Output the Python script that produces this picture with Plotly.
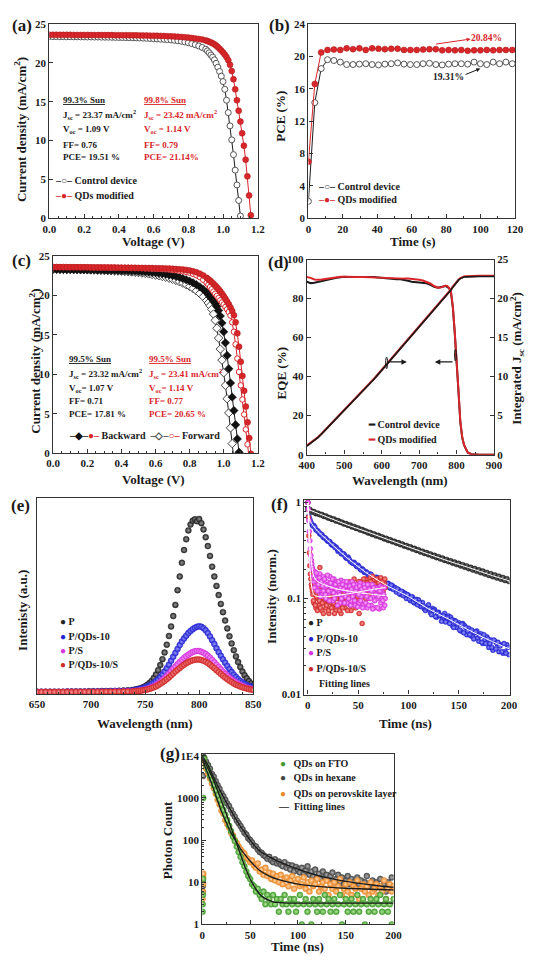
import plotly.graph_objects as go

W, H = 534, 964
FONT = "Liberation Serif"
INK = "#1a1a1a"
AXC = "#333333"
RED = "#d9262a"
DRED = "#a81a1a"
BLUE = "#2525d0"
MAG = "#d535dc"
GREEN = "#3f9a2c"
GRAY = "#454545"
ORANGE = "#e9892a"

# ---------------- DATA ----------------
# (a) J-V curves
volt_grid = [0.00,0.02,0.04,0.06,0.08,0.10,0.12,0.14,0.16,0.18,0.20,0.22,0.24,0.26,0.28,0.30,0.32,0.34,0.36,0.38,
             0.40,0.42,0.44,0.46,0.48,0.50,0.52,0.54,0.56,0.58,0.60,0.62,0.64,0.66,0.68,0.70,0.72,0.74,0.76,0.78,
             0.80,0.82,0.84,0.86,0.88,0.90,0.91,0.92,0.93,0.94,0.95,0.96,0.97,0.98,0.99,1.00,1.01,1.02,1.03,1.04,
             1.05,1.06,1.07,1.08,1.09,1.10,1.11,1.12,1.13,1.14,1.15,1.16]
jv_ctrl_a = [23.40,23.39,23.39,23.38,23.38,23.37,23.37,23.36,23.36,23.35,23.35,23.34,23.34,23.33,23.33,23.32,23.31,23.31,23.30,23.29,
             23.28,23.27,23.26,23.25,23.24,23.23,23.21,23.19,23.17,23.15,23.12,23.09,23.06,23.03,23.00,22.96,22.91,22.85,22.78,22.70,
             22.60,22.48,22.34,22.18,21.99,21.77,21.55,21.30,21.02,20.75,20.40,19.95,19.45,18.90,18.30,17.60,16.60,15.20,13.60,11.90,
             10.10,8.20,6.20,4.30,2.30,0.30]
jv_qd_a = [23.62,23.62,23.62,23.61,23.61,23.61,23.61,23.60,23.60,23.60,23.60,23.60,23.59,23.59,23.59,23.59,23.58,23.58,23.58,23.57,
           23.57,23.57,23.56,23.56,23.55,23.55,23.54,23.53,23.52,23.51,23.50,23.49,23.48,23.46,23.44,23.42,23.40,23.37,23.34,23.30,
           23.26,23.21,23.15,23.08,23.00,22.90,22.82,22.73,22.63,22.52,22.40,22.23,22.04,21.83,21.60,21.35,21.07,20.75,20.35,19.75,
           18.95,17.90,16.60,15.20,13.85,12.45,10.95,9.35,7.55,5.40,2.95,0.40]

# (b) stabilized PCE
time_b = [0, 3.7, 7.4, 11.1, 14.8, 18.5, 22.2, 25.9, 29.6, 33.3, 37.0, 40.7, 44.4, 48.1, 51.8, 55.5, 59.2,
          62.9, 66.6, 70.3, 74.0, 77.7, 81.4, 85.1, 88.8, 92.5, 96.2, 99.9, 103.6, 107.3, 111.0, 114.7, 118.4]
pce_ctrl = [2.1, 14.3, 18.5, 19.6, 19.5, 19.3, 19.0, 19.0, 19.05, 19.1, 19.0, 18.95, 19.05, 19.1, 19.2, 19.05, 19.0,
            19.0, 19.1, 19.15, 19.0, 18.95, 19.05, 19.1, 19.1, 19.05, 19.3, 19.1, 19.0, 19.3, 19.1, 19.3, 19.1]
pce_qd = [7.0, 16.6, 20.5, 20.8, 20.85, 20.8, 21.0, 20.9, 21.0, 20.8, 21.0, 20.95, 20.9, 20.95, 20.95, 20.8, 20.8,
          20.8, 20.85, 20.9, 20.9, 20.75, 20.8, 20.75, 20.8, 20.7, 20.75, 20.75, 20.8, 20.75, 20.8, 20.8, 20.8]

# (c) hysteresis J-V
jv_ctrl_bwd = [23.32,23.32,23.31,23.31,23.30,23.30,23.29,23.29,23.28,23.28,23.27,23.26,23.26,23.25,23.24,23.23,23.22,23.21,23.20,23.19,
               23.17,23.16,23.14,23.12,23.10,23.07,23.04,23.01,22.97,22.93,22.88,22.83,22.77,22.70,22.62,22.53,22.43,22.31,22.17,22.01,
               21.83,21.62,21.38,21.10,20.78,20.40,20.10,19.85,19.58,19.30,19.00,18.60,18.10,17.40,16.50,15.40,14.00,12.40,10.70,8.90,
               7.10,5.40,3.60,1.80,0.10]
jv_ctrl_fwd = [23.36,23.35,23.34,23.33,23.32,23.31,23.30,23.29,23.28,23.27,23.26,23.25,23.23,23.22,23.20,23.19,23.17,23.15,23.13,23.11,
               23.08,23.05,23.02,22.99,22.95,22.91,22.86,22.81,22.75,22.68,22.60,22.52,22.42,22.32,22.20,22.07,21.92,21.76,21.58,21.38,
               21.15,20.90,20.60,20.25,19.85,19.35,19.05,18.70,18.25,17.65,16.85,15.85,14.60,13.20,11.80,10.20,8.60,6.90,5.10,3.20,
               1.20,-0.80]
jv_qd_bwd = [23.60,23.60,23.60,23.59,23.59,23.59,23.59,23.58,23.58,23.58,23.58,23.57,23.57,23.57,23.56,23.56,23.56,23.55,23.55,23.54,
             23.54,23.53,23.53,23.52,23.52,23.51,23.50,23.50,23.49,23.48,23.47,23.46,23.45,23.44,23.42,23.40,23.37,23.34,23.30,23.25,
             23.18,23.08,22.95,22.78,22.55,22.25,22.08,21.90,21.70,21.50,21.28,21.05,20.80,20.53,20.24,19.93,19.60,19.25,18.88,18.48,
             18.03,17.50,16.60,15.20,13.50,11.60,9.80,7.90,5.90,3.90,1.90,-0.10]
jv_qd_fwd = [23.62,23.62,23.61,23.61,23.61,23.60,23.60,23.60,23.59,23.59,23.58,23.58,23.57,23.57,23.56,23.56,23.55,23.54,23.54,23.53,
             23.52,23.51,23.50,23.49,23.48,23.47,23.46,23.44,23.43,23.41,23.40,23.38,23.35,23.33,23.30,23.25,23.21,23.15,23.08,23.00,
             22.90,22.76,22.58,22.35,22.00,21.60,21.35,21.08,20.80,20.50,20.22,19.95,19.68,19.40,19.12,18.85,18.55,18.25,17.90,17.45,
             16.60,15.40,13.80,12.00,10.30,8.60,6.80,4.90,3.00,1.10,-0.80]

# (d) EQE and integrated Jsc
wl_d = [400,410,420,430,440,450,460,470,480,490,500,510,520,530,540,550,560,570,580,590,
        600,610,620,630,640,650,660,670,680,690,700,710,720,730,740,750,760,
        765,770,775,780,785,790,795,800,805,810,815,820,825,830,840,850,860,870,880,890,900]
eqe_ctrl = [88.6,87.9,88.1,88.6,89.1,89.5,89.8,90.2,90.6,90.9,91.1,91.0,91.0,91.1,91.1,91.1,91.2,91.1,91.0,90.8,
            90.6,90.3,90.0,89.9,89.9,89.9,89.6,89.1,88.6,88.4,88.4,88.2,87.8,87.0,86.0,85.6,85.8,
            86.2,86.5,86.0,85.3,83.0,75.5,62.5,49.5,32.5,16.5,8.8,4.8,2.4,1.0,0.2,0,0,0,0,0,0]
eqe_qd = [91.0,90.6,89.8,89.6,89.8,90.1,90.3,90.6,90.9,91.1,91.1,91.0,90.9,90.9,91.0,91.0,90.9,90.8,90.8,90.7,
          90.6,90.5,90.4,90.3,90.3,90.3,90.2,90.2,90.1,89.9,89.6,89.2,88.6,87.7,86.4,85.6,85.8,
          86.3,86.6,86.5,85.5,83.5,76.0,63.0,50.0,33.0,17.0,9.0,5.0,2.5,1.0,0.2,0,0,0,0,0,0]
jint_ctrl = [1.10,1.45,1.80,2.20,2.70,3.20,3.65,4.10,4.60,5.10,5.60,6.10,6.60,7.10,7.60,8.10,8.65,9.20,9.70,10.25,
             10.80,11.35,11.90,12.50,13.05,13.60,14.15,14.70,15.25,15.80,16.35,16.90,17.45,18.00,18.55,19.10,19.65,
             19.90,20.20,20.50,20.80,21.10,21.45,21.80,22.10,22.35,22.55,22.68,22.75,22.78,22.80,22.82,22.83,22.83,22.83,22.83,22.83,22.83]
jint_qd = [1.15,1.50,1.85,2.25,2.72,3.22,3.68,4.14,4.64,5.14,5.64,6.14,6.64,7.14,7.64,8.14,8.70,9.25,9.76,10.31,
           10.86,11.41,11.96,12.56,13.11,13.66,14.22,14.78,15.33,15.88,16.43,16.98,17.53,18.08,18.62,19.16,19.70,
           19.96,20.26,20.56,20.86,21.16,21.51,21.86,22.16,22.41,22.61,22.74,22.81,22.84,22.86,22.88,22.89,22.89,22.89,22.89,22.89,22.89]

# (e) steady-state PL
wl_e = [650,654,658,662,666,670,674,678,682,686,690,694,698,702,706,710,714,718,722,726,730,734,738,
        740,742,744,746,748,750,752,754,756,758,760,762,764,766,768,770,772,774,776,778,
        780,782,784,786,788,790,792,794,796,798,800,802,804,806,808,810,812,814,816,818,
        820,822,824,826,828,830,832,834,836,838,840,842,844,846,848,850]
pl_p = [0.012,0.012,0.012,0.012,0.012,0.012,0.012,0.013,0.013,0.013,0.013,0.013,0.014,0.014,0.014,0.015,0.015,0.016,0.016,0.017,0.018,0.019,0.020,
        0.022,0.024,0.027,0.030,0.034,0.040,0.047,0.056,0.067,0.082,0.100,0.122,0.148,0.178,0.212,0.252,0.296,0.345,0.398,0.455,
        0.530,0.600,0.670,0.735,0.790,0.835,0.865,0.885,0.892,0.882,0.893,0.872,0.840,0.800,0.755,0.705,0.650,0.600,0.552,0.505,
        0.460,0.418,0.375,0.335,0.295,0.258,0.224,0.192,0.163,0.138,0.115,0.096,0.080,0.066,0.054,0.044]
pl_pq = [0.011,0.011,0.011,0.011,0.011,0.011,0.011,0.012,0.012,0.012,0.012,0.012,0.012,0.013,0.013,0.013,0.014,0.014,0.015,0.015,0.016,0.017,0.018,
         0.020,0.022,0.024,0.027,0.030,0.034,0.039,0.044,0.050,0.057,0.065,0.075,0.087,0.100,0.115,0.132,0.150,0.170,0.190,0.210,
         0.230,0.250,0.268,0.284,0.298,0.311,0.322,0.331,0.338,0.343,0.346,0.343,0.336,0.325,0.311,0.294,0.275,0.255,0.234,0.214,
         0.195,0.177,0.160,0.143,0.127,0.112,0.099,0.087,0.076,0.067,0.059,0.052,0.046,0.041,0.037,0.034]
pl_ps = [0.010,0.010,0.010,0.010,0.010,0.010,0.010,0.010,0.011,0.011,0.011,0.011,0.011,0.011,0.012,0.012,0.012,0.012,0.013,0.013,0.013,0.014,0.014,
         0.015,0.016,0.017,0.019,0.021,0.023,0.026,0.030,0.034,0.040,0.046,0.054,0.062,0.071,0.081,0.092,0.104,0.116,0.128,0.140,
         0.152,0.163,0.174,0.184,0.193,0.201,0.208,0.214,0.218,0.220,0.219,0.216,0.211,0.204,0.195,0.185,0.174,0.162,0.150,0.138,
         0.126,0.114,0.103,0.093,0.083,0.074,0.066,0.059,0.052,0.046,0.041,0.036,0.032,0.029,0.026,0.024]
pl_pqs = [0.010,0.010,0.010,0.010,0.010,0.010,0.010,0.010,0.010,0.011,0.011,0.011,0.011,0.011,0.011,0.011,0.012,0.012,0.012,0.012,0.013,0.013,0.013,
          0.014,0.015,0.016,0.017,0.019,0.021,0.023,0.026,0.030,0.034,0.039,0.045,0.052,0.059,0.067,0.076,0.085,0.095,0.105,0.115,
          0.124,0.133,0.142,0.150,0.157,0.163,0.168,0.172,0.175,0.176,0.176,0.174,0.170,0.165,0.158,0.150,0.141,0.132,0.122,0.112,
          0.102,0.093,0.084,0.076,0.068,0.061,0.054,0.048,0.043,0.038,0.034,0.031,0.028,0.025,0.023,0.021]

# (f) TRPL
t_f = [0,2,4,6,8,10,12,14,16,18,20,22,24,26,28,30,32,34,36,38,40,42,44,46,48,50,52,54,56,58,
       60,62,64,66,68,70,72,74,76,78,80,82,84,86,88,90,92,94,96,98,100,102,104,106,108,110,112,114,116,118,
       120,122,124,126,128,130,132,134,136,138,140,142,144,146,148,150,152,154,156,158,
       160,162,164,166,168,170,172,174,176,178,180,182,184,186,188,190,192,194,196,198,200]
t_f_odd = [1,3,5,7,9,11,13,15,17,19,21,23,25,27,29,31,33,35,37,39,41,43,45,47,49,51,53,55,57,59,
           61,63,65,67,69,71,73,75,77,79,81,83,85,87,89,91,93,95,97,99,101,103,105,107,109,111,113,115,117,119,
           121,123,125,127,129,131,133,135,137,139,141,143,145,147,149,151,153,155,157,159,
           161,163,165,167,169,171,173,175,177,179,181,183,185,187,189,191,193,195,197,199]
tr_p = [0.86,0.84,0.80,0.80,0.77,0.77,0.75,0.745,0.72,0.72,0.695,0.69,0.67,0.67,0.645,0.645,0.625,0.62,0.60,0.60,
        0.58,0.58,0.56,0.56,0.54,0.54,0.52,0.52,0.505,0.50,0.485,0.485,0.467,0.468,0.45,0.452,0.436,0.435,0.42,0.421,
        0.405,0.407,0.392,0.393,0.379,0.38,0.366,0.367,0.353,0.355,0.341,0.343,0.329,0.331,0.318,0.320,0.307,0.309,0.297,0.299,
        0.287,0.289,0.277,0.280,0.268,0.271,0.259,0.262,0.251,0.254,0.243,0.246,0.235,0.238,0.227,0.231,0.220,0.224,0.213,0.217,
        0.206,0.210,0.199,0.204,0.193,0.198,0.187,0.192,0.181,0.186,0.175,0.180,0.170,0.175,0.165,0.170,0.160,0.165,0.155,0.160,0.151]
tr_pq = [1.00,0.67,0.59,0.575,0.52,0.505,0.47,0.46,0.43,0.42,0.395,
         0.39,0.36,0.355,0.345,0.31,0.312,0.29,0.29,0.265,0.27,0.245,0.236,0.238,0.219,0.222,0.203,0.204,0.188,0.19,0.176,
         0.180,0.166,0.160,0.167,0.163,0.147,0.154,0.139,0.137,0.144,0.128,0.136,0.131,0.117,0.124,0.110,0.118,0.114,0.100,0.108,
         0.095,0.104,0.090,0.098,0.097,0.083,0.091,0.078,0.080,0.086,0.071,0.079,0.077,0.064,0.072,0.066,0.061,0.070,0.059,0.066,
         0.064,0.052,0.059,0.050,0.056,
         0.046,0.055,0.052,0.042,0.049,0.041,0.040,0.044,0.046,0.036,0.043,0.034,0.037,0.040,0.031,0.037,0.029,0.036,0.034,0.028,
         0.033,0.027,0.028,0.033,0.026]
tr_pq_odd = [0.72,0.625,0.57,0.555,0.51,0.49,0.47,0.44,0.43,0.405,
             0.395,0.37,0.362,0.34,0.33,0.318,0.296,0.292,0.274,0.262,
             0.258,0.24,0.232,0.229,0.214,0.214,0.198,0.199,0.187,0.185,
             0.173,0.178,0.164,0.158,0.165,0.152,0.147,0.153,0.140,0.143,
             0.131,0.138,0.124,0.129,0.126,0.113,0.119,0.107,0.112,0.110,
             0.099,0.104,0.092,0.097,0.086,0.091,0.082,0.084,0.075,0.079,
             0.078,0.068,0.075,0.065,0.071,0.067,0.058,0.066,0.057,0.063,
             0.055,0.060,0.050,0.058,0.054,0.047,0.054,0.044,0.050,0.046,
             0.042,0.047,0.038,0.045,0.039,0.041,0.035,0.042,0.034,0.038,
             0.034,0.031,0.037,0.030,0.035,0.032,0.028,0.034,0.027,0.031]
t_fs = [0,0.5,1,1.5,2,2.5,3,3.5,4,4.5,5,6,7,8,9,10,11,12,13,14,15,16,17,18,19,20,21,22,23,24,25,26,27,28,29,30,
        31,32,33,34,35,36,37,38,39,40,41,42,43,44,45,46,47,48,49,50,51,52,53,54,55,56,57,58,59,60,
        61,62,63,64,65,66,67,68,69,70,71,72,73,74,75,76,77]
t_fs_half = [5.5,6.5,7.5,8.5,9.5,10.5,11.5,12.5,13.5,14.5,15.5,16.5,17.5,18.5,19.5,20.5,21.5,22.5,23.5,24.5,
             25.5,26.5,27.5,28.5,29.5,30.5,31.5,32.5,33.5,34.5,35.5,36.5,37.5,38.5,39.5,40.5,41.5,42.5,43.5,44.5,
             45.5,46.5,47.5,48.5,49.5,50.5,51.5,52.5,53.5,54.5,55.5,56.5,57.5,58.5,59.5,60.5,61.5,62.5,63.5,64.5,
             65.5,66.5,67.5,68.5,69.5,70.5,71.5,72.5,73.5,74.5,75.5,76.5]
tr_ps = [1.00,0.85,0.65,0.50,0.40,0.33,0.28,0.25,0.23,0.21,
         0.20,0.15,0.19,0.13,0.17,0.16,0.12,0.18,0.14,0.11,0.17,0.13,0.155,0.10,0.15,0.14,0.115,0.17,0.12,0.145,
         0.095,0.16,0.13,0.11,0.15,0.12,0.14,0.09,0.155,0.125,0.105,0.15,0.12,0.135,0.09,0.145,0.115,0.13,0.095,0.15,
         0.11,0.125,0.085,0.14,0.115,0.13,0.09,0.145,0.105,0.12,0.085,0.14,0.11,0.125,0.08,0.135,0.10,0.12,0.085,0.14,
         0.105,0.115,0.08,0.13,0.10,0.12,0.078,0.135,0.10,0.115,0.08,0.13,0.10]
tr_ps_half = [0.17,0.13,0.16,0.185,0.12,0.14,0.165,0.105,0.15,0.135,
              0.12,0.16,0.11,0.135,0.175,0.12,0.095,0.145,0.13,0.16,
              0.115,0.10,0.14,0.125,0.085,0.15,0.11,0.13,0.10,0.14,
              0.125,0.09,0.105,0.15,0.12,0.10,0.135,0.085,0.125,0.105,
              0.14,0.095,0.12,0.13,0.082,0.11,0.135,0.095,0.125,0.08,
              0.115,0.13,0.09,0.105,0.14,0.085,0.125,0.10,0.12,0.078,
              0.13,0.095,0.11,0.125,0.08,0.105,0.12,0.09,0.13,0.095,
              0.11,0.085]
tr_pqs = [1.00,0.70,0.45,0.30,0.22,0.18,0.16,0.14,0.13,0.12,
          0.11,0.09,0.14,0.08,0.12,0.10,0.085,0.21,0.095,0.075,0.13,0.09,0.11,0.08,0.12,0.095,0.07,0.125,0.09,0.15,
          0.08,0.105,0.12,0.075,0.10,0.13,0.085,0.11,0.07,0.12,0.095,0.14,0.08,0.11,0.125,0.09,0.15,0.10,0.075,0.13,
          0.11,0.16,0.09,0.12,0.14,0.10,0.07,0.15,0.12,0.055,0.135,0.11,0.16,0.125,0.10,0.145,0.12,0.165,0.105,0.14,
          0.125,0.155,0.11,0.145,0.13,0.16,0.115,0.14,0.125,0.155,0.12,0.145,0.13]
tr_pqs_half = [0.095,0.12,0.085,0.105,0.075,0.13,0.095,0.08,0.11,0.09,
               0.07,0.12,0.10,0.085,0.14,0.075,0.105,0.095,0.08,0.115,
               0.09,0.07,0.13,0.10,0.085,0.115,0.075,0.10,0.125,0.08,
               0.105,0.09,0.12,0.095,0.075,0.11,0.13,0.085,0.12,0.10,
               0.14,0.115,0.08,0.13,0.105,0.15,0.12,0.09,0.135,0.11,
               0.16,0.125,0.10,0.145,0.12,0.135,0.105,0.15,0.125,0.17,
               0.115,0.14,0.13,0.16,0.12,0.145,0.135,0.165,0.11,0.15,
               0.135,0.16]
fit_t_p = [0,20,40,60,80,100,120,140,160,180,200]
fit_p = [0.85,0.70,0.58,0.49,0.41,0.345,0.29,0.245,0.21,0.178,0.153]
fit_t_pq = [0,2,5,10,20,30,40,50,60,80,100,120,140,160,180,200]
fit_pq = [1.0,0.66,0.58,0.50,0.40,0.32,0.26,0.215,0.18,0.134,0.105,0.078,0.061,0.047,0.037,0.030]
fit_t_s = [0,1,2,3,4,6,10,20,30,40,50,60,70,77]
fit_ps = [1.0,0.65,0.40,0.28,0.22,0.17,0.15,0.135,0.125,0.12,0.115,0.112,0.109,0.107]
fit_pqs = [1.0,0.45,0.22,0.16,0.13,0.11,0.105,0.105,0.108,0.112,0.117,0.122,0.127,0.13]

# (g) QD photon counts
t_g0 = [0.2,0.4,0.6,0.8,1.0]
t_g = [2,4,6,8,10,12,14,16,18,20,22,24,26,28,30,32,34,36,38,40,42,44,46,48,50,52,54,56,58,60,
       62,64,66,68,70,72,74,76,78,80,82,84,86,88,90,92,94,96,98,100,102,104,106,108,110,112,114,116,118,120,
       122,124,126,128,130,132,134,136,138,140,142,144,146,148,150,152,154,156,158,160,
       162,164,166,168,170,172,174,176,178,180,182,184,186,188,190,192,194,196,198,200]
fto0 = [2,3,5,12,1000]
cnt_fto = [8500,5800,4500,3300,2700,2000,1500,1150,900,700,520,400,300,220,165,120,95,70,52,40,30,24,18,14,12,9,8,6,7,5,
           4,6,3,5,4,3,5,3,4,2,4,3,5,3,2,4,3,4,2,3,5,1,3,4,2,3,1,4,3,2,
           4,3,2,5,3,4,2,3,4,2,3,5,1,3,4,2,3,4,2,3,
           5,2,3,4,1,3,2,4,3,2,4,3,5,2,3,4,2,3,1,4]
hex0 = [6,8,10,3300,9500]
cnt_hex = [9000,7200,6000,4900,3700,3200,2500,2000,1650,1300,1100,900,740,640,520,420,360,290,250,215,180,150,135,110,100,88,74,70,60,52,
           50,44,41,36,40,33,30,35,28,31,26,24,30,22,26,20,25,18,23,20,17,22,16,19,24,15,18,14,20,13,
           16,12,18,13,15,11,14,17,10,12,15,10,13,9,11,14,9,12,10,8,
           13,9,11,7,10,14,8,9,11,7,10,8,12,7,9,6,10,8,13,7]
pvk0 = [4,6,9,13,16]
cnt_pvk = [6500,5000,3800,2900,2200,1700,1250,900,700,500,420,300,240,200,150,130,100,85,70,60,52,48,38,35,30,33,25,22,28,18,
           20,15,22,14,17,12,16,11,14,10,15,9,12,13,8,11,14,7,10,12,8,9,13,7,10,6,11,8,9,12,
           6,8,10,7,11,5,9,7,10,6,8,12,5,7,9,6,10,5,8,7,
           11,4,7,9,6,8,5,10,6,7,9,5,8,6,11,4,7,9,6,8]
fit_t_fto = [0,5,10,15,20,25,30,35,40,45,50,55,60,65,70,75,80,90,100,120,150,200]
fit_fto = [9000,5500,3200,1700,850,420,200,95,45,22,12,7.5,5.2,4.2,3.7,3.4,3.3,3.2,3.2,3.2,3.2,3.2]
fit_t_hex = [0,5,10,15,20,25,30,35,40,45,50,55,60,70,80,90,100,120,140,160,180,200]
fit_hex = [10000,6500,3800,2200,1300,800,500,320,210,145,100,72,55,40,31,25,20.5,14.5,11.5,9.7,8.5,7.6]
fit_t_pvk = [0,5,10,15,20,25,30,35,40,45,50,60,70,80,100,120,150,200]
fit_pvk = [8000,4200,2100,1000,480,260,150,95,62,44,32,19,14,11.5,9,8,7.2,6.6]

# ---------------- LAYOUT HELPERS ----------------
def xdom(l, r):
    return [l / W, r / W]

def ydom(t, b):
    return [1 - b / H, 1 - t / H]

BOX = {
    "a": (42.7, 18.3, 258.0, 215.0),
    "b": (310.3, 18.3, 523.7, 215.0),
    "c": (46.7, 253.3, 258.0, 452.7),
    "d": (308.7, 256.7, 502.0, 454.3),
    "e": (30.0, 498.3, 253.3, 696.7),
    "f": (306.0, 500.0, 518.0, 697.3),
    "g": (200.7, 757.3, 398.3, 930.0),
}

TICKFONT = dict(family=FONT, size=11, color=INK, weight="bold")

def axis(dom, rng, anchor, **kw):
    d = dict(domain=dom, range=rng, anchor=anchor, showline=True, linecolor=AXC, linewidth=1.3,
             mirror=True, ticks="inside", ticklen=4, tickwidth=1, tickcolor=AXC,
             showgrid=False, zeroline=False, tickfont=TICKFONT)
    d.update(kw)
    return d

def minor(dt, ln=2):
    return dict(ticks="inside", ticklen=ln, tickwidth=1, tickcolor=AXC, dtick=dt, showgrid=False)

def sphere(color, center, size=5.5, edge=None):
    return dict(symbol="circle", size=size, color=color,
                gradient=dict(type="radial", color=center),
                line=dict(width=0.4, color=edge or color))

fig = go.Figure()

def sc(x, y, xa, ya, **kw):
    fig.add_trace(go.Scatter(x=x, y=y, xaxis=xa, yaxis=ya, showlegend=False, **kw))

OPEN_BLK = dict(symbol="circle", size=6, color="white", line=dict(color="#555", width=1))
FILL_RED = dict(symbol="circle", size=6, color=RED, line=dict(color=DRED, width=0.5))

# (a)
sc(volt_grid[:len(jv_ctrl_a)], jv_ctrl_a, "x", "y", mode="lines+markers", name="Control device",
   line=dict(color=INK, width=1), marker=OPEN_BLK)
sc(volt_grid[:len(jv_qd_a)], jv_qd_a, "x", "y", mode="lines+markers", name="QDs modified",
   line=dict(color=RED, width=1), marker=FILL_RED)

# (b)
sc(time_b, pce_ctrl, "x2", "y2", mode="lines+markers", name="Control device",
   line=dict(color=INK, width=1), marker=OPEN_BLK)
sc(time_b, pce_qd, "x2", "y2", mode="lines+markers", name="QDs modified",
   line=dict(color=RED, width=1), marker=FILL_RED)

# (c)
sc(volt_grid[:len(jv_ctrl_fwd)], jv_ctrl_fwd, "x3", "y3", mode="lines+markers", name="Control forward",
   line=dict(color=INK, width=1), marker=dict(symbol="diamond", size=6.5, color="white", line=dict(color="#444", width=1)))
sc(volt_grid[:len(jv_ctrl_bwd)], jv_ctrl_bwd, "x3", "y3", mode="lines+markers", name="Control backward",
   line=dict(color=INK, width=1), marker=dict(symbol="diamond", size=6.5, color="#111", line=dict(color="#111", width=0.5)))
sc(volt_grid[:len(jv_qd_fwd)], jv_qd_fwd, "x3", "y3", mode="lines+markers", name="QDs forward",
   line=dict(color=RED, width=1), marker=dict(symbol="circle", size=5.5, color="white", line=dict(color=RED, width=1)))
sc(volt_grid[:len(jv_qd_bwd)], jv_qd_bwd, "x3", "y3", mode="lines+markers", name="QDs backward",
   line=dict(color=RED, width=1), marker=FILL_RED)

# (d)
sc(wl_d, eqe_ctrl, "x4", "y4", mode="lines", name="Control device", line=dict(color=INK, width=2))
sc(wl_d, eqe_qd, "x4", "y4", mode="lines", name="QDs modified", line=dict(color=RED, width=2))
sc(wl_d, jint_qd, "x4", "y8", mode="lines", name="QDs modified Jsc", line=dict(color=RED, width=2.2))
sc(wl_d, jint_ctrl, "x4", "y8", mode="lines", name="Control device Jsc", line=dict(color=INK, width=1.6))

# (e)
sc(wl_e, pl_p, "x5", "y5", mode="markers", name="P", marker=sphere("#222222", "#9a9a9a", 6))
sc(wl_e, pl_pq, "x5", "y5", mode="markers", name="P/QDs-10", marker=sphere(BLUE, "#9a9aff", 6))
sc(wl_e, pl_ps, "x5", "y5", mode="markers", name="P/S", marker=sphere(MAG, "#ffb0ff", 6))
sc(wl_e, pl_pqs, "x5", "y5", mode="markers", name="P/QDs-10/S", marker=sphere("#cf2a2a", "#ff9c9c", 6))

# (f)
sc(t_f, tr_p, "x6", "y6", mode="markers", name="P", marker=sphere("#222222", "#9a9a9a", 5.5))
sc(t_f + t_f_odd, tr_pq + tr_pq_odd, "x6", "y6", mode="markers", name="P/QDs-10", marker=sphere(BLUE, "#9a9aff", 5))
sc(t_fs + t_fs_half, tr_pqs + tr_pqs_half, "x6", "y6", mode="markers", name="P/QDs-10/S", marker=sphere("#cf2a2a", "#ff9c9c", 5))
sc(t_fs + t_fs_half, tr_ps + tr_ps_half, "x6", "y6", mode="markers", name="P/S", marker=sphere(MAG, "#ffb0ff", 5))
for tt, yy in [(fit_t_p, fit_p), (fit_t_pq, fit_pq), (fit_t_s, fit_ps), (fit_t_s, fit_pqs)]:
    sc(tt, yy, "x6", "y6", mode="lines", name="Fitting lines", line=dict(color="white", width=1), line_shape="spline")

# (g)
sc(t_g0 + t_g, hex0 + cnt_hex, "x7", "y7", mode="markers", name="QDs in hexane", marker=sphere(GRAY, "#b5b5b5", 6))
sc(t_g0 + t_g, pvk0 + cnt_pvk, "x7", "y7", mode="markers", name="QDs on perovskite layer", marker=sphere(ORANGE, "#ffd6a8", 6))
sc(t_g0 + t_g, fto0 + cnt_fto, "x7", "y7", mode="markers", name="QDs on FTO", marker=sphere(GREEN, "#b6e79c", 6))
for tt, yy in [(fit_t_fto, fit_fto), (fit_t_hex, fit_hex), (fit_t_pvk, fit_pvk)]:
    sc(tt, yy, "x7", "y7", mode="lines", name="Fitting lines", line=dict(color=INK, width=1.3), line_shape="spline")

# ---------------- AXES ----------------
def dom(k):
    l, t, r, b = BOX[k]
    return xdom(l, r), ydom(t, b)

ax_a, ay_a = dom("a"); ax_b, ay_b = dom("b"); ax_c, ay_c = dom("c"); ax_d, ay_d = dom("d")
ax_e, ay_e = dom("e"); ax_f, ay_f = dom("f"); ax_g, ay_g = dom("g")

layout_axes = dict(
    xaxis=axis(ax_a, [0, 1.2], "y", dtick=0.2, tickformat=".1f", minor=minor(0.05)),
    yaxis=axis(ay_a, [0, 25], "x", dtick=5),
    xaxis2=axis(ax_b, [0, 120], "y2", dtick=20, minor=minor(10)),
    yaxis2=axis(ay_b, [0, 24], "x2", dtick=4),
    xaxis3=axis(ax_c, [0, 1.2], "y3", dtick=0.2, tickformat=".1f", minor=minor(0.05)),
    yaxis3=axis(ay_c, [0, 25], "x3", dtick=5),
    xaxis4=axis(ax_d, [400, 900], "y4", dtick=100, minor=minor(50)),
    yaxis4=axis(ay_d, [0, 100], "x4", dtick=20),
    yaxis8=axis(ay_d, [0, 25], "x4", dtick=5, overlaying="y4", side="right", mirror=False),
    xaxis5=axis(ax_e, [650, 850], "y5", dtick=50, minor=minor(10)),
    yaxis5=axis(ay_e, [0, 1], "x5", ticks="", showticklabels=False),
    xaxis6=axis(ax_f, [-3.55, 200.5], "y6", tickvals=[0, 50, 100, 150, 200], minor=minor(25)),
    yaxis6=axis(ay_f, [-2, 0.028], "x6", type="log", dtick=1, minor=minor("D1")),
    xaxis7=axis(ax_g, [0, 200], "y7", dtick=50, minor=minor(25)),
    yaxis7=axis(ay_g, [0, 4.045], "x7", type="log", tickvals=[1, 10, 100, 1000, 10000],
                ticktext=["1", "10", "100", "1000", "1E4"], minor=minor("D1")),
)

# ---------------- ANNOTATIONS ----------------
ann = []

def paper_text(text, cx, cy, size=13, angle=0, color=INK, xanchor="center"):
    ann.append(dict(text=text, x=cx / W, y=1 - cy / H, xref="paper", yref="paper", showarrow=False,
                    xanchor=xanchor, yanchor="middle", textangle=angle,
                    font=dict(family=FONT, size=size, color=color, weight="bold")))

# panel letters
for lab, cx, cy in [("(a)", 14, 20), ("(b)", 280, 20), ("(c)", 14, 258), ("(d)", 279, 260),
                    ("(e)", 13, 506), ("(f)", 280, 505), ("(g)", 167, 757)]:
    paper_text(lab, cx, cy, size=17)

# axis titles
paper_text("Voltage (V)", 150, 238)
paper_text("Current density (mA/cm<sup>2</sup>)", 13, 125, angle=-90)
paper_text("Time (s)", 418, 238)
paper_text("PCE (%)", 282, 112, angle=-90)
paper_text("Voltage (V)", 150, 479)
paper_text("Current density (mA/cm<sup>2</sup>)", 27, 360, angle=-90)
paper_text("Wavelength (nm)", 405, 480)
paper_text("EQE (%)", 282, 372, angle=-90)
paper_text("Integrated J<sub>sc</sub> (mA/cm<sup>2</sup>)", 525, 357, angle=-90)
paper_text("Wavelength (nm)", 142, 727)
paper_text("Intenisty (a.u.)", 15, 612, angle=-90)
paper_text("Time (ns)", 411, 727)
paper_text("Intensity (norm.)", 272, 598, angle=-90)
paper_text("Time (ns)", 299, 952)
paper_text("Photon Count", 165, 845, angle=-90)

def data_text(text, x, y, xr, yr, color=INK, size=9, xanchor="left"):
    ann.append(dict(text=text, x=x, y=y, xref=xr, yref=yr, showarrow=False, xanchor=xanchor,
                    yanchor="middle", font=dict(family=FONT, size=size, color=color, weight="bold")))

a_ctrl_text = ["<u>99.3% Sun</u>", "J<sub>sc</sub> = 23.37 mA/cm<sup>2</sup>", "V<sub>oc</sub> = 1.09 V", "FF= 0.76", "PCE= 19.51 %"]
a_qd_text = ["<u>99.8% Sun</u>", "J<sub>sc</sub> = 23.42 mA/cm<sup>2</sup>", "V<sub>oc</sub> = 1.14 V", "FF= 0.79", "PCE= 21.14%"]
a_text_j = [15.2, 13.3, 11.4, 9.5, 7.9]
for t1, t2, yy in zip(a_ctrl_text, a_qd_text, a_text_j):
    data_text(t1, 0.068, yy, "x", "y")
    data_text(t2, 0.532, yy, "x", "y", color=RED)

c_ctrl_text = ["<u>99.5% Sun</u>", "J<sub>sc</sub> = 23.32 mA/cm<sup>2</sup>", "V<sub>oc</sub>= 1.07 V", "FF= 0.71", "PCE= 17.81 %"]
c_qd_text = ["<u>99.5% Sun</u>", "J<sub>sc</sub> = 23.41 mA/cm<sup>2</sup>", "V<sub>oc</sub>= 1.14 V", "FF= 0.77", "PCE= 20.65 %"]
c_text_j = [12.0, 10.1, 8.2, 6.6, 5.0]
for t1, t2, yy in zip(c_ctrl_text, c_qd_text, c_text_j):
    data_text(t1, 0.081, yy, "x3", "y3")
    data_text(t2, 0.553, yy, "x3", "y3", color=RED)

# (b) value labels and arrows
data_text("20.84%", 103.7, 22.3, "x2", "y2", color=RED, size=9.5, xanchor="center")
data_text("19.31%", 81.6, 17.5, "x2", "y2", color=INK, size=9.5, xanchor="center")
ann.append(dict(x=94.2, y=22.15, ax=73.2, ay=21.5, xref="x2", yref="y2", axref="x2", ayref="y2",
                text="", showarrow=True, arrowhead=2, arrowsize=0.8, arrowwidth=1, arrowcolor=RED))
ann.append(dict(x=99.8, y=18.5, ax=90.4, ay=17.7, xref="x2", yref="y2", axref="x2", ayref="y2",
                text="", showarrow=True, arrowhead=2, arrowsize=0.8, arrowwidth=1, arrowcolor=INK))

# (d) axis indicator arrows
ann.append(dict(x=667, y=47.5, ax=617, ay=47.5, xref="x4", yref="y4", axref="x4", ayref="y4",
                text="", showarrow=True, arrowhead=2, arrowsize=0.9, arrowwidth=1.2, arrowcolor=INK))
ann.append(dict(x=742, y=47.5, ax=793, ay=47.5, xref="x4", yref="y4", axref="x4", ayref="y4",
                text="", showarrow=True, arrowhead=2, arrowsize=0.9, arrowwidth=1.2, arrowcolor=INK))

shapes = [
    dict(type="circle", xref="x4", yref="y4", x0=610.5, x1=615.5, y0=44, y1=50, line=dict(color=INK, width=1)),
    dict(type="circle", xref="x4", yref="y4", x0=794.5, x1=799.5, y0=48, y1=54, line=dict(color=INK, width=1)),
]

# ---------------- LEGENDS (key rows) ----------------
NB = "\u00a0"

def key(glyph, label, left, cy, size=10):
    paper_text(glyph + NB + label, left, cy, size=size, xanchor="left")

def g(color, s):
    return "<span style='color:%s'>%s</span>" % (color, s)

# (a)
key(g(INK, "–") + g("#555", "○") + g(INK, "–"), "Control device", 46, 177)
key(g(RED, "–●–"), "QDs modified", 46, 192)
# (b)
key(g(INK, "–") + g("#555", "○") + g(INK, "–"), "Control device", 318, 183)
key(g(RED, "–●–"), "QDs modified", 318, 195.5)
# (c)
key(g("#111", "–◆–") + g(RED, "●–"), "Backward" + NB + NB + g("#444", "–◇–") + g(RED, "○–") + NB + "Forward", 61, 435)
# (d)
key(g(INK, "━"), "Control device", 370, 424)
key(g(RED, "━"), "QDs modified", 370, 439)
# (e)
for lab, col, cy in [("P", "#222222", 623), ("P/QDs-10", BLUE, 638), ("P/S", MAG, 652.5), ("P/QDs-10/S", "#cf2a2a", 667)]:
    key(g(col, "●"), lab, 52, cy)
# (f)
for lab, col, cy in [("P", "#222222", 624), ("P/QDs-10", BLUE, 640), ("P/S", MAG, 655), ("P/QDs-10/S", "#cf2a2a", 671)]:
    key(g(col, "●"), lab, 308, cy)
paper_text("Fitting lines", 319, 686.5, size=10, xanchor="left")
# (g)
for lab, col, cy in [("QDs on FTO", GREEN, 767), ("QDs in hexane", GRAY, 781.5), ("QDs on perovskite layer", ORANGE, 797)]:
    key(g(col, "●") + NB + NB, lab, 279, cy)
key(g(INK, "—") + NB, "Fitting lines", 277, 811)

fig.update_layout(
    width=W, height=H, margin=dict(l=0, r=0, t=0, b=0),
    paper_bgcolor="white", plot_bgcolor="white",
    font=dict(family=FONT, size=11, color=INK, weight="bold"),
    showlegend=False,
    annotations=ann,
    shapes=shapes,
    **layout_axes,
)

fig.write_html("out.html")
